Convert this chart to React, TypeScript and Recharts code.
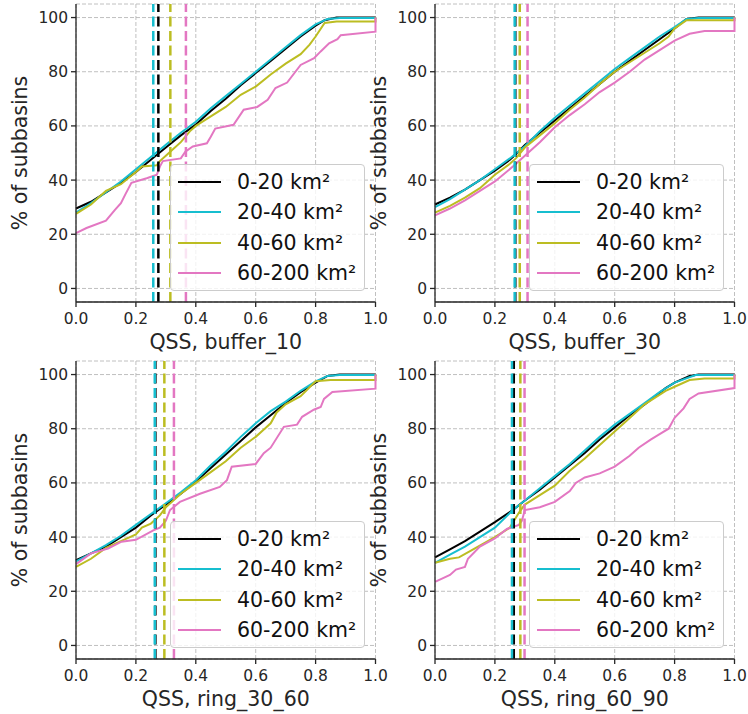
import { LineChart, Line, XAxis, YAxis, CartesianGrid, ReferenceLine, Legend } from 'recharts';

type Pt = [number, number];

const SIZE_CLASSES = ['0-20 km²', '20-40 km²', '40-60 km²', '60-200 km²'];
const COLORS = ['#000000', '#17becf', '#bcbd22', '#e377c2'];
const X_TICKS = [0, 0.2, 0.4, 0.6, 0.8, 1.0];
const Y_TICKS = [0, 20, 40, 60, 80, 100];

// QSS, buffer_10
const buf10_0_20: Pt[] = [[0, 29.5], [0.05, 32], [0.1, 35.5], [0.15, 39], [0.2, 43], [0.25, 47.5], [0.3, 52], [0.35, 56.5], [0.4, 60.5], [0.45, 65.5], [0.5, 70], [0.55, 75], [0.6, 79.5], [0.65, 84], [0.7, 88.5], [0.75, 93], [0.8, 97], [0.83, 99], [0.87, 100], [1, 100]];
const buf10_20_40: Pt[] = [[0, 28], [0.05, 31.5], [0.1, 35.5], [0.15, 39.5], [0.2, 44], [0.25, 48.5], [0.3, 53], [0.35, 57.5], [0.4, 61.5], [0.45, 66.5], [0.5, 71], [0.55, 75.5], [0.6, 80], [0.65, 84.5], [0.7, 89], [0.75, 93.5], [0.8, 97.5], [0.84, 99.5], [0.88, 99.8], [1, 99.8], [1, 100]];
const buf10_40_60: Pt[] = [[0, 27.5], [0.05, 31], [0.08, 34], [0.1, 36], [0.15, 38.5], [0.2, 43], [0.22, 45], [0.27, 45.5], [0.28, 47], [0.3, 49], [0.32, 51], [0.35, 54], [0.38, 58], [0.4, 60], [0.45, 63.5], [0.5, 67], [0.55, 71.5], [0.6, 74.5], [0.65, 79], [0.7, 83], [0.75, 86.5], [0.78, 90], [0.8, 93], [0.83, 98], [0.87, 98.5], [1, 98.5], [1, 100]];
const buf10_60_200: Pt[] = [[0, 20.4], [0.035, 22.3], [0.1, 25], [0.13, 29], [0.15, 31.5], [0.166, 35], [0.185, 39], [0.236, 40.7], [0.27, 42], [0.28, 45], [0.29, 47], [0.35, 48], [0.365, 50.5], [0.39, 52.4], [0.437, 53.6], [0.45, 56], [0.465, 59], [0.526, 60.4], [0.56, 66], [0.605, 67], [0.64, 69.6], [0.666, 74], [0.705, 76], [0.75, 82.5], [0.795, 85], [0.817, 87.5], [0.845, 90.5], [0.873, 92], [0.884, 93.5], [1, 94.8], [1, 100]];
const buf10_medians = [0.275, 0.258, 0.315, 0.367];

// QSS, buffer_30
const buf30_0_20: Pt[] = [[0, 31], [0.05, 33.5], [0.1, 36.5], [0.15, 40], [0.2, 43.5], [0.25, 47.5], [0.27, 49.5], [0.3, 53], [0.35, 57.5], [0.4, 62], [0.45, 66.5], [0.5, 71], [0.55, 75.5], [0.6, 80], [0.65, 84], [0.7, 88], [0.75, 92], [0.8, 96], [0.84, 99.5], [0.88, 100], [1, 100]];
const buf30_20_40: Pt[] = [[0, 30], [0.05, 33], [0.1, 36.5], [0.15, 40], [0.2, 44], [0.25, 48], [0.3, 52.5], [0.35, 58], [0.4, 63], [0.45, 67.5], [0.5, 72], [0.55, 76.5], [0.6, 81], [0.65, 85], [0.7, 89], [0.75, 93], [0.8, 96.5], [0.84, 99.5], [0.88, 99.8], [1, 99.8], [1, 100]];
const buf30_40_60: Pt[] = [[0, 28], [0.05, 30.5], [0.1, 33.5], [0.15, 37], [0.2, 42], [0.25, 46], [0.27, 48], [0.3, 52], [0.35, 56.5], [0.4, 61], [0.45, 66], [0.5, 70.5], [0.55, 75.5], [0.6, 80], [0.65, 83.5], [0.7, 87], [0.75, 90.5], [0.78, 93], [0.8, 96], [0.84, 99], [1, 99], [1, 100]];
const buf30_60_200: Pt[] = [[0, 27], [0.05, 29.5], [0.1, 32.5], [0.15, 36], [0.2, 39.5], [0.26, 45], [0.3, 49], [0.35, 54], [0.4, 59.5], [0.45, 64], [0.5, 68], [0.55, 72.5], [0.6, 76], [0.65, 80], [0.7, 84.5], [0.75, 88], [0.8, 91.5], [0.85, 94], [0.9, 95], [1, 95], [1, 100]];
const buf30_medians = [0.268, 0.266, 0.283, 0.309];

// QSS, ring_30_60
const r3060_0_20: Pt[] = [[0, 31.5], [0.05, 34], [0.1, 36.5], [0.15, 40], [0.2, 43.5], [0.25, 48], [0.3, 52], [0.35, 56], [0.4, 60.5], [0.45, 65.5], [0.5, 70.5], [0.55, 75.5], [0.6, 80.5], [0.65, 85], [0.7, 89.5], [0.75, 93.5], [0.8, 97], [0.84, 99.5], [0.88, 100], [1, 100]];
const r3060_20_40: Pt[] = [[0, 31], [0.05, 34], [0.1, 37], [0.15, 40.5], [0.2, 44.5], [0.25, 48.5], [0.3, 52.5], [0.35, 56.5], [0.4, 61], [0.45, 66.5], [0.5, 71.5], [0.55, 77], [0.6, 82], [0.65, 86.5], [0.7, 90], [0.75, 94], [0.8, 97.5], [0.84, 99.5], [0.88, 99.8], [1, 99.8], [1, 100]];
const r3060_40_60: Pt[] = [[0, 29], [0.05, 32], [0.1, 36], [0.15, 38.5], [0.2, 41], [0.22, 43.5], [0.25, 45], [0.28, 48], [0.3, 51], [0.35, 56], [0.4, 60], [0.45, 64], [0.5, 68], [0.55, 73], [0.6, 77], [0.63, 80], [0.65, 82], [0.67, 86], [0.7, 89], [0.75, 92], [0.8, 97.5], [0.85, 98], [1, 98], [1, 100]];
const r3060_60_200: Pt[] = [[0, 30], [0.05, 34], [0.107, 35.8], [0.152, 38.3], [0.2, 39], [0.258, 42.5], [0.28, 43.5], [0.3, 46], [0.314, 50], [0.347, 53], [0.414, 56], [0.48, 58.5], [0.504, 61], [0.52, 66], [0.6, 67], [0.627, 71], [0.65, 73], [0.694, 80.7], [0.738, 81.5], [0.755, 84.4], [0.794, 87], [0.817, 88], [0.828, 91], [0.856, 93.6], [1, 94.8], [1, 100]];
const r3060_medians = [0.265, 0.263, 0.295, 0.327];

// QSS, ring_60_90
const r6090_0_20: Pt[] = [[0, 32.5], [0.05, 35.5], [0.1, 38.5], [0.15, 42], [0.2, 45.5], [0.26, 50], [0.3, 53.5], [0.35, 57.5], [0.4, 62], [0.45, 66.5], [0.5, 71], [0.55, 76], [0.6, 80.5], [0.65, 85], [0.7, 89], [0.77, 95], [0.8, 97], [0.85, 99.5], [0.88, 100], [1, 100]];
const r6090_20_40: Pt[] = [[0, 30.5], [0.05, 33.5], [0.1, 36.5], [0.15, 40], [0.2, 43.5], [0.26, 50], [0.3, 53.5], [0.35, 58], [0.4, 62.5], [0.45, 67], [0.5, 72], [0.55, 77], [0.6, 81.5], [0.65, 85.5], [0.7, 89.5], [0.75, 93.5], [0.8, 97], [0.87, 99.8], [1, 99.8], [1, 100]];
const r6090_40_60: Pt[] = [[0, 30.5], [0.05, 32], [0.08, 32.5], [0.12, 35], [0.2, 40], [0.25, 43.5], [0.28, 49], [0.3, 52], [0.35, 55.5], [0.4, 59], [0.45, 64.5], [0.5, 69], [0.55, 74], [0.6, 79], [0.65, 84], [0.7, 89], [0.77, 94], [0.8, 95.5], [0.85, 98], [0.9, 98.5], [1, 98.5], [1, 100]];
const r6090_60_200: Pt[] = [[0, 23.5], [0.05, 26], [0.07, 28], [0.1, 29], [0.11, 32], [0.15, 36.5], [0.2, 39.5], [0.24, 43], [0.28, 44.5], [0.29, 46], [0.3, 50], [0.35, 51], [0.4, 53], [0.45, 57], [0.47, 60], [0.5, 62], [0.55, 63.5], [0.6, 66], [0.65, 70], [0.68, 73], [0.72, 76], [0.75, 78], [0.78, 80], [0.8, 84], [0.83, 87.5], [0.85, 91], [0.88, 93], [1, 95], [1, 100]];
const r6090_medians = [0.263, 0.257, 0.285, 0.299];

const PANELS = [
  { title: 'QSS, buffer_10', curves: [buf10_0_20, buf10_20_40, buf10_40_60, buf10_60_200], medians: buf10_medians, left: 0, top: 0 },
  { title: 'QSS, buffer_30', curves: [buf30_0_20, buf30_20_40, buf30_40_60, buf30_60_200], medians: buf30_medians, left: 359, top: 0 },
  { title: 'QSS, ring_30_60', curves: [r3060_0_20, r3060_20_40, r3060_40_60, r3060_60_200], medians: r3060_medians, left: 0, top: 357 },
  { title: 'QSS, ring_60_90', curves: [r6090_0_20, r6090_20_40, r6090_40_60, r6090_60_200], medians: r6090_medians, left: 359, top: 357 },
];

// every panel: plot area 299.5px wide, 298px tall, 76px left of it for the y axis
const W = 400;
const H = 357;
const INK = '#262626';

const LegendBox = () => (
  <div
    style={{
      position: 'relative',
      boxSizing: 'border-box',
      width: 195,
      height: 127,
      background: 'rgba(255,255,255,0.8)',
      border: '1px solid #cccccc',
      borderRadius: 4,
    }}
  >
    {SIZE_CLASSES.map((name, i) => (
      <div key={name} style={{ position: 'absolute', left: 0, top: 17 + i * 30.3, width: '100%' }}>
        <div style={{ position: 'absolute', left: 7, top: -1, width: 43, height: 2, background: COLORS[i] }} />
        <div
          style={{
            position: 'absolute',
            left: 66,
            top: -12,
            fontSize: 20.5,
            lineHeight: '24px',
            color: '#111',
            whiteSpace: 'nowrap',
          }}
        >
          {name}
        </div>
      </div>
    ))}
  </div>
);

const Panel = ({ panel }: { panel: (typeof PANELS)[number] }) => (
  <div style={{ position: 'absolute', left: panel.left, top: panel.top, width: W, height: H }}>
    <LineChart width={W} height={H} margin={{ top: 4, right: W - 76 - 299.5, bottom: 0, left: 0 }}>
      <CartesianGrid stroke="#b0b0b0" strokeDasharray="4 2" strokeWidth={0.8} />
      <XAxis
        type="number"
        dataKey="x"
        domain={[0, 1]}
        ticks={X_TICKS}
        interval={0}
        tickFormatter={(v: number) => v.toFixed(1)}
        height={55}
        tickSize={5}
        tickMargin={6}
        stroke={INK}
        strokeWidth={1.3}
        tick={{ fill: INK, fontSize: 15.5 }}
        label={{ value: panel.title, position: 'insideBottom', offset: 8.5, fontSize: 20.5, fill: INK }}
      />
      <YAxis
        type="number"
        domain={[-5, 105]}
        ticks={Y_TICKS}
        interval={0}
        width={76}
        tickSize={5}
        tickMargin={3}
        stroke={INK}
        strokeWidth={1.3}
        tick={{ fill: INK, fontSize: 15.5 }}
        label={{ value: '% of subbasins', angle: -90, position: 'center', dx: -18, fontSize: 20.5, fill: INK }}
      />
      {panel.curves.map((pts, i) => (
        <Line
          key={SIZE_CLASSES[i]}
          data={pts.map(([x, y]) => ({ x, y }))}
          dataKey="y"
          type="linear"
          stroke={COLORS[i]}
          strokeWidth={2}
          dot={false}
          isAnimationActive={false}
        />
      ))}
      {panel.medians.map((m, i) => (
        <ReferenceLine key={i} x={m} stroke={COLORS[i]} strokeWidth={2.5} strokeDasharray="10 4.5" />
      ))}
      <Legend
        layout="horizontal"
        verticalAlign="middle"
        align="center"
        wrapperStyle={{ left: 170, top: 164, width: 195, height: 127 }}
        content={() => <LegendBox />}
      />
    </LineChart>
  </div>
);

export default function App() {
  return (
    <div
      style={{
        position: 'absolute',
        left: 0,
        top: 0,
        width: 748,
        height: 714,
        overflow: 'hidden',
        background: '#fff',
        fontFamily: '"DejaVu Sans", sans-serif',
      }}
    >
      {PANELS.map((p) => (
        <Panel key={p.title} panel={p} />
      ))}
    </div>
  );
}
